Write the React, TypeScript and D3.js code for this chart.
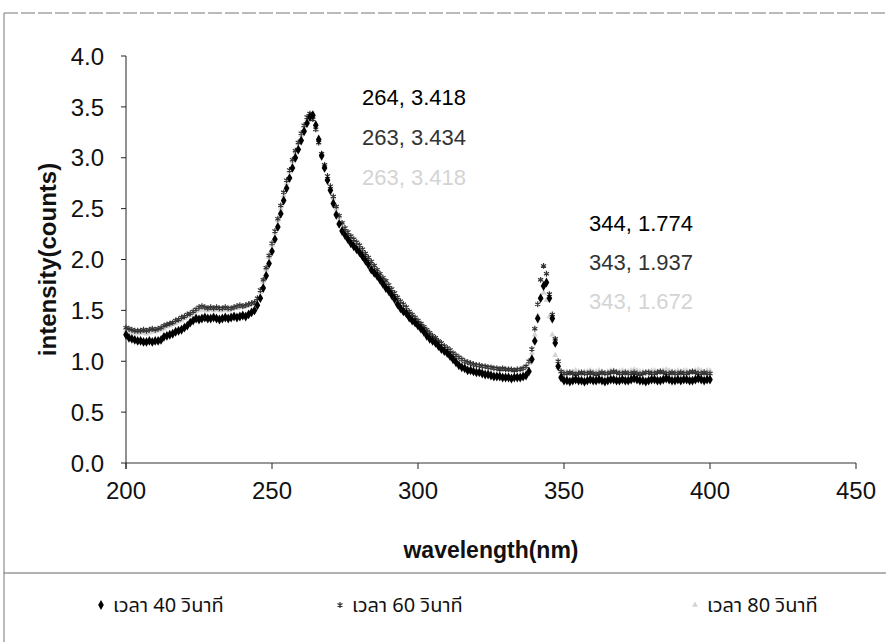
import React from "react";
import * as d3 from "d3";

const W = 886;
const H = 642;

const xTicks = [200, 250, 300, 350, 400, 450];
const yTicks = [0, 0.5, 1.0, 1.5, 2.0, 2.5, 3.0, 3.5, 4.0];

const seriesNames = ["เวลา 40 วินาที", "เวลา 60 วินาที", "เวลา 80 วินาที"];

// wavelengths 200..400 nm, 1 nm step
const wavelengths = d3.range(200, 401);

const s40 = [
  1.26,1.23,1.22,1.21,1.20,1.20,1.19,1.19,1.20,1.19,
  1.20,1.20,1.21,1.24,1.25,1.26,1.27,1.29,1.30,1.31,
  1.33,1.35,1.38,1.40,1.42,1.41,1.42,1.43,1.42,1.42,
  1.43,1.42,1.41,1.42,1.43,1.42,1.43,1.44,1.43,1.44,
  1.45,1.44,1.46,1.48,1.50,1.55,1.62,1.72,1.84,1.96,
  2.08,2.20,2.32,2.45,2.58,2.70,2.80,2.90,3.00,3.08,
  3.17,3.26,3.34,3.40,3.418,3.32,3.18,3.02,2.90,2.78,
  2.68,2.55,2.44,2.35,2.28,2.24,2.20,2.16,2.13,2.10,
  2.07,2.03,1.99,1.95,1.90,1.87,1.84,1.80,1.76,1.72,
  1.69,1.65,1.61,1.56,1.52,1.49,1.47,1.43,1.40,1.38,
  1.35,1.32,1.29,1.25,1.22,1.20,1.18,1.15,1.12,1.10,
  1.08,1.05,1.02,0.99,0.96,0.94,0.93,0.91,0.91,0.90,
  0.89,0.89,0.88,0.87,0.87,0.86,0.85,0.85,0.85,0.84,
  0.84,0.84,0.83,0.84,0.84,0.84,0.85,0.86,0.90,1.02,
  1.20,1.42,1.62,1.74,1.774,1.62,1.42,1.18,0.95,0.84,
  0.81,
  0.81,0.80,0.81,0.82,0.81,0.81,0.80,0.81,0.82,0.81,
  0.81,0.82,0.81,0.80,0.81,0.82,0.82,0.81,0.81,0.82,
  0.81,0.81,0.82,0.83,0.82,0.81,0.81,0.80,0.81,0.82,
  0.82,0.81,0.81,0.82,0.83,0.82,0.81,0.81,0.82,0.81,
  0.82,0.82,0.81,0.81,0.82,0.83,0.82,0.81,0.82,0.82,
];

const s60 = [
  1.33,1.32,1.31,1.30,1.30,1.30,1.31,1.30,1.31,1.32,
  1.31,1.32,1.33,1.35,1.36,1.37,1.38,1.40,1.41,1.43,
  1.44,1.46,1.47,1.49,1.51,1.53,1.54,1.53,1.52,1.53,
  1.52,1.53,1.52,1.52,1.53,1.52,1.52,1.53,1.54,1.55,
  1.54,1.55,1.56,1.57,1.58,1.62,1.70,1.80,1.92,2.04,
  2.16,2.28,2.40,2.53,2.66,2.78,2.88,2.98,3.07,3.15,
  3.24,3.32,3.40,3.434,3.38,3.28,3.15,3.04,2.93,2.82,
  2.72,2.62,2.52,2.43,2.36,2.31,2.27,2.23,2.20,2.17,
  2.14,2.10,2.06,2.02,1.98,1.94,1.90,1.86,1.82,1.79,
  1.75,1.71,1.67,1.63,1.59,1.56,1.53,1.49,1.46,1.43,
  1.40,1.37,1.34,1.31,1.28,1.25,1.23,1.20,1.18,1.15,
  1.13,1.11,1.08,1.06,1.04,1.02,1.00,0.99,0.98,0.97,
  0.96,0.96,0.95,0.95,0.94,0.94,0.93,0.93,0.92,0.93,
  0.92,0.92,0.92,0.91,0.92,0.92,0.93,0.95,1.00,1.12,
  1.32,1.56,1.80,1.937,1.86,1.66,1.46,1.22,1.00,0.90,
  0.88,
  0.88,0.89,0.88,0.87,0.88,0.89,0.88,0.88,0.89,0.88,
  0.87,0.88,0.89,0.88,0.88,0.89,0.90,0.89,0.88,0.88,
  0.89,0.88,0.88,0.89,0.88,0.87,0.88,0.89,0.89,0.88,
  0.88,0.89,0.90,0.89,0.88,0.88,0.89,0.88,0.88,0.89,
  0.88,0.88,0.89,0.90,0.89,0.88,0.88,0.89,0.88,0.88,
];

const s80 = [
  1.30,1.29,1.28,1.28,1.27,1.28,1.28,1.27,1.28,1.29,
  1.29,1.30,1.31,1.32,1.34,1.35,1.36,1.37,1.39,1.40,
  1.42,1.44,1.45,1.47,1.49,1.50,1.51,1.50,1.50,1.51,
  1.50,1.51,1.50,1.50,1.51,1.50,1.51,1.52,1.52,1.53,
  1.53,1.54,1.55,1.56,1.57,1.61,1.68,1.78,1.90,2.02,
  2.14,2.26,2.38,2.50,2.63,2.75,2.86,2.96,3.05,3.14,
  3.22,3.31,3.38,3.418,3.37,3.27,3.14,3.02,2.91,2.80,
  2.70,2.60,2.50,2.41,2.35,2.30,2.26,2.22,2.19,2.16,
  2.13,2.09,2.05,2.01,1.97,1.93,1.89,1.85,1.81,1.78,
  1.74,1.70,1.66,1.62,1.58,1.55,1.52,1.48,1.45,1.42,
  1.39,1.36,1.33,1.30,1.27,1.24,1.22,1.19,1.17,1.14,
  1.12,1.10,1.07,1.05,1.03,1.01,0.99,0.98,0.97,0.96,
  0.96,0.95,0.95,0.94,0.94,0.93,0.93,0.93,0.92,0.92,
  0.92,0.92,0.91,0.91,0.92,0.92,0.93,0.94,0.98,1.08,
  1.26,1.45,1.62,1.672,1.60,1.44,1.26,1.06,0.94,0.90,
  0.89,
  0.90,0.89,0.90,0.91,0.90,0.89,0.90,0.90,0.91,0.90,
  0.90,0.91,0.90,0.89,0.90,0.91,0.91,0.90,0.90,0.91,
  0.90,0.90,0.91,0.92,0.91,0.90,0.90,0.89,0.90,0.91,
  0.91,0.90,0.90,0.91,0.92,0.91,0.90,0.90,0.91,0.90,
  0.91,0.91,0.90,0.90,0.91,0.92,0.91,0.90,0.91,0.91,
];

const peakLabels1 = ["264, 3.418", "263, 3.434", "263, 3.418"];
const peakLabels2 = ["344, 1.774", "343, 1.937", "343, 1.672"];

const colors = ["#000000", "#333333", "#d4d4d4"];
const fontMain = "'Liberation Sans', Arial, sans-serif";
const fontThai = "'Noto Sans Thai', 'Noto Sans', 'DejaVu Sans', sans-serif";

export default function App() {
  const x = d3.scaleLinear().domain([200, 450]).range([126, 856]);
  const y = d3.scaleLinear().domain([0, 4]).range([463, 56]);

  const diamond = d3.symbol().type(d3.symbolDiamond).size(28)()!;
  const aster = d3.symbol().type(d3.symbolAsterisk).size(24)()!;
  const tri = d3.symbol().type(d3.symbolTriangle).size(16)()!;

  const series = [s80, s60, s40];
  const seriesIdx = [2, 1, 0];

  const renderMarker = (idx: number, tx: number, ty: number, key?: any) => {
    if (idx === 0)
      return <path key={key} d={diamond} transform={`translate(${tx},${ty})`} fill={colors[0]} />;
    if (idx === 1)
      return (
        <path key={key} d={aster} transform={`translate(${tx},${ty})`} fill="none" stroke={colors[1]} strokeWidth={1.2} />
      );
    return <path key={key} d={tri} transform={`translate(${tx},${ty})`} fill={colors[2]} />;
  };

  return (
    <svg width={W} height={H} style={{ position: "absolute", left: 0, top: 0, background: "#fff" }}>
      <rect x={0} y={0} width={W} height={H} fill="#fff" />
      {/* outer border */}
      <line x1={4} y1={13} x2={W} y2={13} stroke="#777" strokeWidth={1} strokeDasharray="14 3" />
      <line x1={4} y1={13} x2={4} y2={H} stroke="#777" strokeWidth={1} />
      <line x1={4} y1={573} x2={W} y2={573} stroke="#666" strokeWidth={1} />

      {/* axes */}
      <line x1={x(200)} y1={y(4)} x2={x(200)} y2={y(0) + 6} stroke="#222" strokeWidth={1} />
      <line x1={x(200)} y1={y(0)} x2={x(450)} y2={y(0)} stroke="#333" strokeWidth={1} />
      {yTicks.map((t) => (
        <g key={"yt" + t}>
          <line x1={x(200) - 5} x2={x(200)} y1={y(t)} y2={y(t)} stroke="#222" />
          <text
            x={104}
            y={y(t)}
            dy="0.36em"
            textAnchor="end"
            fontFamily={fontMain}
            fontSize={24}
            fill="#111"
          >
            {t.toFixed(1)}
          </text>
        </g>
      ))}
      {xTicks.map((t) => (
        <g key={"xt" + t}>
          <line x1={x(t)} x2={x(t)} y1={y(0)} y2={y(0) + 6} stroke="#222" />
          <text
            x={x(t)}
            y={490}
            dy="0.36em"
            textAnchor="middle"
            fontFamily={fontMain}
            fontSize={24}
            fill="#111"
          >
            {t}
          </text>
        </g>
      ))}

      <text
        x={x(325)}
        y={550}
        dy="0.36em"
        textAnchor="middle"
        fontFamily={fontMain}
        fontWeight="bold"
        fontSize={23}
        fill="#111"
      >
        wavelength(nm)
      </text>
      <text
        transform={`translate(47,${(y(0) + y(4)) / 2}) rotate(-90)`}
        dy="0.36em"
        textAnchor="middle"
        fontFamily={fontMain}
        fontWeight="bold"
        fontSize={24}
        fill="#111"
      >
        intensity(counts)
      </text>

      {/* data */}
      {series.map((vals, si) => (
        <g key={"s" + si}>
          {vals.map((v, i) => renderMarker(seriesIdx[si], x(wavelengths[i]), y(v), i))}
        </g>
      ))}

      {/* peak labels */}
      {peakLabels1.map((t, i) => (
        <text
          key={"p1" + i}
          x={414}
          y={97 + i * 40}
          dy="0.36em"
          textAnchor="middle"
          fontFamily={fontMain}
          fontSize={22}
          fill={colors[i]}
        >
          {t}
        </text>
      ))}
      {peakLabels2.map((t, i) => (
        <text
          key={"p2" + i}
          x={641}
          y={223 + i * 39}
          dy="0.36em"
          textAnchor="middle"
          fontFamily={fontMain}
          fontSize={22}
          fill={colors[i]}
        >
          {t}
        </text>
      ))}

      {/* legend */}
      {[101, 340, 695].map((lx, i) => (
        <g key={"lg" + i}>
          {renderMarker(i, lx, 605)}
          <text
            x={lx + 12}
            y={605}
            dy="0.36em"
            fontFamily={fontThai}
            fontSize={20}
            fill="#111"
          >
            {seriesNames[i]}
          </text>
        </g>
      ))}
    </svg>
  );
}
